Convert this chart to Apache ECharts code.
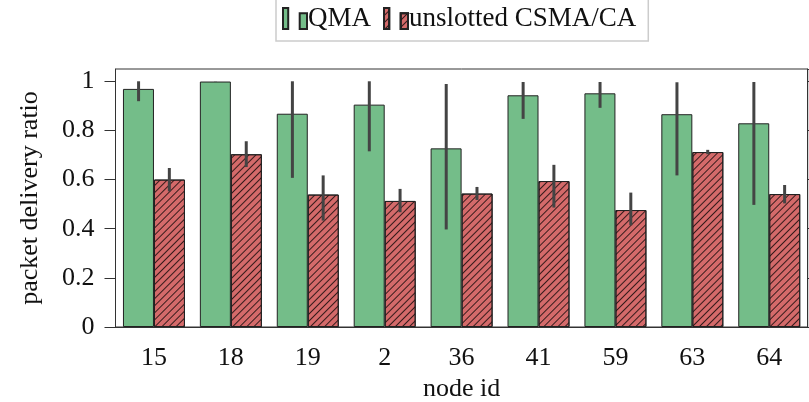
<!DOCTYPE html>
<html>
<head>
<meta charset="utf-8">
<script src="https://cdn.jsdelivr.net/npm/echarts@6/dist/echarts.min.js"></script>
<style>
  html, body { margin: 0; padding: 0; background: #fff; }
  #chart { width: 809px; height: 402px; }
</style>
</head>
<body>
<div id="chart"></div>
<script>
const nodes = ['15', '18', '19', '2', '36', '41', '59', '63', '64']
const qma = [0.969, 0.999, 0.868, 0.905, 0.727, 0.943, 0.951, 0.866, 0.829]
const qmaLow = [0.919, 0.999, 0.607, 0.715, 0.397, 0.847, 0.892, 0.617, 0.497]
const qmaHigh = [1.0, 1.0, 1.0, 1.0, 0.989, 0.997, 0.997, 0.996, 0.997]
const csma = [0.600, 0.703, 0.539, 0.513, 0.543, 0.594, 0.476, 0.712, 0.541]
const csmaLow = [0.552, 0.651, 0.433, 0.467, 0.517, 0.486, 0.414, 0.703, 0.503]
const csmaHigh = [0.647, 0.756, 0.617, 0.562, 0.570, 0.660, 0.547, 0.721, 0.578]

const serif = 'Liberation Serif'
const axisColor = '#333'
const green = '#74bd89'
const red = '#d46a6a'
const hatch = {
  symbol: 'rect',
  symbolSize: 1,
  color: 'rgba(0,0,0,0.75)',
  dashArrayX: [1, 0],
  dashArrayY: [1, 4],
  rotation: -Math.PI / 4
}

const errorSeries = (low, high, shift) => ({
  type: 'custom',
  silent: true,
  z: 5,
  data: low.map((l, i) => [i, l, high[i]]),
  renderItem: (params, api) => {
    const a = api.coord([api.value(0), api.value(1)])
    const b = api.coord([api.value(0), api.value(2)])
    const dx = api.size([1, 0])[0] * shift
    return {
      type: 'line',
      shape: { x1: a[0] + dx, y1: a[1], x2: b[0] + dx, y2: b[1] },
      style: { stroke: '#444', lineWidth: 3 }
    }
  }
})

const chart = echarts.init(document.getElementById('chart'))
chart.setOption({
  animation: false,
  grid: {
    left: 115.5, right: 1.3, top: 69, bottom: 75,
    outerBoundsMode: 'none',
    show: true, borderColor: axisColor, borderWidth: 1
  },
  legend: {
    top: -3,
    left: 276,
    padding: [8, 12, 9, 6],
    borderColor: '#ccc',
    borderWidth: 1.5,
    itemWidth: 24,
    itemHeight: 21,
    itemGap: 12,
    icon: 'path://M0,0H5V20H0Z M16,5H23V20H16Z',
    textStyle: { fontFamily: serif, fontSize: 27, color: '#111', padding: [0, 0, 0, -4] },
    data: ['QMA', 'unslotted CSMA/CA']
  },
  xAxis: [{
    type: 'category',
    data: nodes,
    name: 'node id',
    nameLocation: 'middle',
    nameGap: 39,
    nameTextStyle: { fontFamily: serif, fontSize: 26, color: '#111' },
    axisLine: { lineStyle: { color: axisColor } },
    axisTick: { alignWithLabel: true, length: 11, lineStyle: { color: axisColor } },
    axisLabel: { fontFamily: serif, fontSize: 26, color: '#111', margin: 18 }
  }, {
    type: 'category',
    data: nodes,
    position: 'top',
    axisLine: { lineStyle: { color: axisColor } },
    axisTick: { alignWithLabel: true, length: 11, lineStyle: { color: axisColor } },
    axisLabel: { show: false }
  }],
  yAxis: [{
    type: 'value',
    min: 0,
    max: 1.05,
    interval: 0.2,
    name: 'packet delivery ratio',
    nameLocation: 'middle',
    nameGap: 72,
    nameTextStyle: { fontFamily: serif, fontSize: 26, color: '#111' },
    splitLine: { show: false },
    axisLine: { show: true, lineStyle: { color: axisColor } },
    axisTick: { show: true, length: 11, lineStyle: { color: axisColor } },
    axisLabel: { fontFamily: serif, fontSize: 26, color: '#111', margin: 21 }
  }, {
    type: 'value',
    min: 0,
    max: 1.05,
    interval: 0.2,
    position: 'right',
    splitLine: { show: false },
    axisLine: { show: true, lineStyle: { color: axisColor } },
    axisTick: { show: true, length: 11, lineStyle: { color: axisColor } },
    axisLabel: { show: false }
  }],
  series: [{
    name: 'QMA',
    type: 'bar',
    data: qma,
    barWidth: 31,
    barGap: 0,
    itemStyle: { color: green, borderColor: '#222', borderWidth: 1 }
  }, {
    name: 'unslotted CSMA/CA',
    type: 'bar',
    data: csma,
    barWidth: 31,
    barGap: 0,
    itemStyle: { color: red, borderColor: '#222', borderWidth: 1, decal: hatch }
  },
  errorSeries(qmaLow, qmaHigh, -0.2),
  errorSeries(csmaLow, csmaHigh, 0.2)]
})
</script>
</body>
</html>
